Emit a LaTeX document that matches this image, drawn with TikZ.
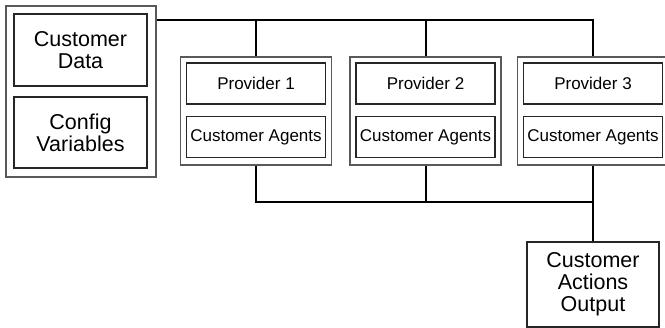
\documentclass[tikz,border=0pt]{standalone}
\usepackage{fontspec}
\setmainfont{Liberation Sans}
\usetikzlibrary{positioning}
\tikzstyle{board} = [x = 1pt, y = -1pt]
\tikzstyle{outerBox} = [draw=black!65, line width=1.3pt, inner sep=0pt]
\tikzstyle{innerBox} = [draw=black!85, line width=1.2pt, inner sep=0pt, align=center]
\tikzstyle{bigText} = [font=\fontsize{21.5}{22}\selectfont]
\tikzstyle{smallText} = [font=\fontsize{17}{20}\selectfont]
\tikzstyle{busLine} = [draw=black, line width=2pt]
% one provider: outer frame with its name and its agents
\newcommand{\providerBlock}[3]{
  \node [outerBox, minimum width=151pt, minimum height=108pt] (#1) at (#2, 111) {};
  \node [innerBox, smallText, minimum width=139pt, minimum height=41pt] (#1Name) at (#2, 83.5) {#3};
  \node [innerBox, smallText, minimum width=139pt, minimum height=41pt] (#1Agents) at (#2, 137) {Customer Agents};
}
\begin{document}
\begin{tikzpicture}[board]
  \useasboundingbox (0,0) rectangle (665,328);
  \clip (0,0) rectangle (665,328);

  % inputs
  \node [outerBox, minimum width=150pt, minimum height=171pt] (inputs) at (81, 91.5) {};
  \node [innerBox, bigText, minimum width=133pt, minimum height=72pt] (customerData) at (80.5, 50) {Customer\\Data};
  \node [innerBox, bigText, minimum width=133pt, minimum height=71pt] (configVars) at (80.5, 132.5) {Config\\Variables};

  \providerBlock{providerOne}{256}{Provider 1}
  \providerBlock{providerTwo}{425.5}{Provider 2}
  \providerBlock{providerThree}{593}{Provider 3}

  % output
  \node [innerBox, bigText, minimum width=132pt, minimum height=85pt] (output) at (593, 284.5) {Customer\\Actions\\Output};

  \coordinate (topBus) at (0, 20);
  \coordinate (bottomBus) at (0, 202);

  \draw [busLine] (inputs.east |- topBus) -| (providerThree.north);
  \draw [busLine] (providerOne.north) -- (providerOne.north |- topBus);
  \draw [busLine] (providerTwo.north) -- (providerTwo.north |- topBus);

  \draw [busLine] (providerOne.south) |- (providerThree.south |- bottomBus);
  \draw [busLine] (providerTwo.south) -- (providerTwo.south |- bottomBus);
  \draw [busLine] (providerThree.south) -- (output.north);
\end{tikzpicture}
\end{document}
